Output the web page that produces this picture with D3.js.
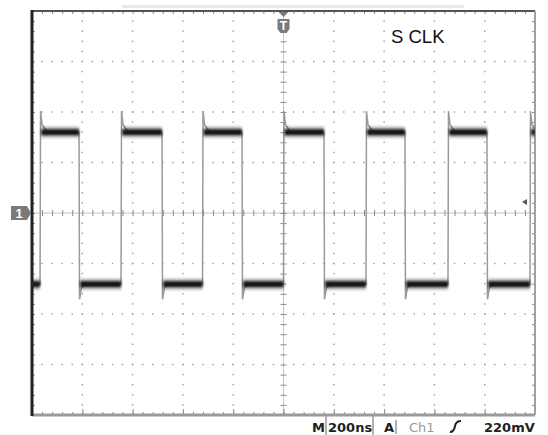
<!DOCTYPE html>
<html>
<head>
<meta charset="utf-8">
<script src="https://cdn.jsdelivr.net/npm/d3@7"></script>
<style>
  body { margin: 0; background: #fff; }
  svg { display: block; }
</style>
</head>
<body>
<script>
// Data: 200 ns/div, ~1 V/div, trigger at t = 0
let timeDomain = [-1000, 1000];
let voltDomain = [-4, 4];
let risingEdges = [-968, -646, -322, 0, 328, 654, 980];
let fallingEdges = [-813, -483, -165, 161, 483, 809];
let highLevel = 1.6;
let lowLevel = -1.41;
// ringing right after each edge: [ns after edge, volts from the settled level]
let riseRing = [[2, 0.42], [8, 0.15], [30, 0]];
let fallRing = [[2, -0.3], [10, -0.06], [30, 0]];
let triggerLevel = 0.22;
let label = "S CLK";
let footer = {timebase: "200ns", source: "Ch1", level: "220mV"};

let width = 548;
let height = 435;
let plot = {left: 32, right: 535, top: 11, bottom: 415};

let x = d3.scaleLinear().domain(timeDomain).range([plot.left, plot.right]);
let y = d3.scaleLinear().domain(voltDomain).range([plot.bottom, plot.top]);

let svg = d3.select("body").append("svg")
  .attr("width", width)
  .attr("height", height)
  .style("font-family", "'Liberation Sans', Arial, sans-serif");

let defs = svg.append("defs");
defs.append("clipPath").attr("id", "clip")
  .append("rect")
  .attr("x", plot.left).attr("y", plot.top)
  .attr("width", plot.right - plot.left).attr("height", plot.bottom - plot.top);
defs.append("filter").attr("id", "fuzz")
  .attr("filterUnits", "userSpaceOnUse")
  .attr("x", 0).attr("y", 0).attr("width", width).attr("height", height)
  .append("feGaussianBlur").attr("stdDeviation", 1.1);

// faint status bar at the very top
svg.append("rect")
  .attr("x", 122).attr("y", 5).attr("width", 342).attr("height", 3)
  .attr("fill", "#e8e8e8");

// grid: dotted major lines
let majorT = d3.range(timeDomain[0] + 200, timeDomain[1], 200);
let majorV = d3.range(voltDomain[0] + 1, voltDomain[1], 1);
let minorT = d3.range(timeDomain[0], timeDomain[1] + 1, 40);
let minorV = d3.range(voltDomain[0], voltDomain[1] + 0.01, 0.2);

let grid = svg.append("g").attr("fill", "#9a9a9a");
for (let t of majorT) {
  if (t == 0) continue;
  grid.selectAll(null).data(minorV).enter().append("rect")
    .attr("x", x(t) - 0.7).attr("y", d => y(d) - 0.7)
    .attr("width", 1.4).attr("height", 1.4);
}
for (let v of majorV) {
  if (v == 0) continue;
  grid.selectAll(null).data(minorT).enter().append("rect")
    .attr("x", d => x(d) - 0.7).attr("y", y(v) - 0.7)
    .attr("width", 1.4).attr("height", 1.4);
}

// center cross with minor ticks
svg.append("line")
  .attr("x1", plot.left).attr("x2", plot.right)
  .attr("y1", y(0)).attr("y2", y(0))
  .attr("stroke", "#c4c4c4").attr("stroke-width", 1);
svg.append("line")
  .attr("x1", x(0)).attr("x2", x(0))
  .attr("y1", plot.top).attr("y2", plot.bottom)
  .attr("stroke", "#c4c4c4").attr("stroke-width", 1);

function tickAxis(axis, tx, ty) {
  let g = svg.append("g")
    .attr("transform", `translate(${tx},${ty})`)
    .call(axis);
  g.select(".domain").remove();
  g.selectAll("text").remove();
  g.selectAll("line").attr("stroke", "#8a8a8a");
  return g;
}
tickAxis(d3.axisBottom(x).tickValues(minorT).tickSize(6), 0, y(0) - 3);
tickAxis(d3.axisRight(y).tickValues(minorV).tickSize(6), x(0) - 3, 0);
// border ticks
tickAxis(d3.axisBottom(x).tickValues(minorT).tickSize(3), 0, plot.top);
tickAxis(d3.axisTop(x).tickValues(minorT).tickSize(3), 0, plot.bottom);
tickAxis(d3.axisRight(y).tickValues(minorV).tickSize(3), plot.left, 0);
tickAxis(d3.axisLeft(y).tickValues(minorV).tickSize(3), plot.right, 0);
tickAxis(d3.axisTop(x).tickValues(majorT).tickSize(6), 0, plot.bottom);

// border
svg.append("line").attr("x1", plot.left).attr("x2", plot.right)
  .attr("y1", plot.top).attr("y2", plot.top)
  .attr("stroke", "#555").attr("stroke-width", 2);
svg.append("line").attr("x1", plot.left).attr("x2", plot.right)
  .attr("y1", plot.bottom).attr("y2", plot.bottom)
  .attr("stroke", "#9a9a9a").attr("stroke-width", 3);
svg.append("line").attr("x1", plot.right).attr("x2", plot.right)
  .attr("y1", plot.top).attr("y2", plot.bottom)
  .attr("stroke", "#a0a0a0").attr("stroke-width", 2);
svg.append("line").attr("x1", plot.left).attr("x2", plot.left)
  .attr("y1", plot.top - 1).attr("y2", plot.bottom + 1)
  .attr("stroke", "#222").attr("stroke-width", 3);

// build the trace from the edge lists
let edges = risingEdges.map(t => ({t, rise: true}))
  .concat(fallingEdges.map(t => ({t, rise: false})))
  .sort((a, b) => a.t - b.t);

let points = [];
let plateaus = [];
let level = edges[0].rise ? lowLevel : highLevel;
let start = timeDomain[0];
points.push([start, level]);
for (let e of edges) {
  plateaus.push({from: start, to: e.t, v: level});
  points.push([e.t, level]);
  level = e.rise ? highLevel : lowLevel;
  let ring = e.rise ? riseRing : fallRing;
  for (let [dt, dv] of ring) points.push([e.t + dt, level + dv]);
  start = e.t + 5;
}
plateaus.push({from: start, to: timeDomain[1], v: level});
points.push([timeDomain[1], level]);

let trace = svg.append("g").attr("clip-path", "url(#clip)");
let line = d3.line().x(d => x(d[0])).y(d => y(d[1]));

trace.append("path")
  .attr("d", line(points))
  .attr("fill", "none")
  .attr("stroke", "#9a9a9a")
  .attr("stroke-width", 1.5);

trace.selectAll(".halo").data(plateaus).enter().append("rect")
  .attr("class", "halo")
  .attr("x", d => x(d.from)).attr("width", d => x(d.to) - x(d.from))
  .attr("y", d => y(d.v) - 6).attr("height", 12)
  .attr("fill", "#000").attr("fill-opacity", 0.22)
  .attr("filter", "url(#fuzz)");
trace.selectAll(".band").data(plateaus).enter().append("rect")
  .attr("class", "band")
  .attr("x", d => x(d.from)).attr("width", d => x(d.to) - x(d.from))
  .attr("y", d => y(d.v) - 3).attr("height", 6)
  .attr("fill", "#151515")
  .attr("filter", "url(#fuzz)");

// channel 1 ground marker
let gy = y(0);
svg.append("path")
  .attr("d", `M11,${gy - 7} H27 L31,${gy} L27,${gy + 7} H11 Z`)
  .attr("fill", "#7a7a7a");
svg.append("text")
  .attr("x", 19).attr("y", gy + 5)
  .attr("text-anchor", "middle")
  .attr("fill", "#fff").attr("font-size", 13).attr("font-weight", "bold")
  .text("1");

// trigger position marker
let tx = x(0);
svg.append("path")
  .attr("d", `M${tx - 5},${plot.top + 1} H${tx + 5} L${tx},${plot.top + 6} Z`)
  .attr("fill", "#7a7a7a");
svg.append("path")
  .attr("d", `M${tx - 6},19 H${tx + 6} V29 L${tx + 3},33 H${tx - 3} L${tx - 6},29 Z`)
  .attr("fill", "#7a7a7a");
svg.append("text")
  .attr("x", tx).attr("y", 30)
  .attr("text-anchor", "middle")
  .attr("fill", "#fff").attr("font-size", 12).attr("font-weight", "bold")
  .text("T");

// trigger level arrow
let ly = y(triggerLevel);
svg.append("path")
  .attr("d", `M${plot.right - 13},${ly} L${plot.right - 8},${ly - 3} L${plot.right - 8},${ly + 3} Z`)
  .attr("fill", "#555");

// signal label
svg.append("text")
  .attr("x", 391).attr("y", 43)
  .attr("font-size", 18.5)
  .attr("fill", "#111")
  .text(label);

// footer readout
let fy = 432;
let foot = svg.append("g")
  .attr("font-family", "'DejaVu Sans', sans-serif")
  .attr("font-size", 13).attr("font-weight", "bold").attr("fill", "#222");
foot.append("text").attr("x", 312).attr("y", fy).text("M");
foot.append("path")
  .attr("d", `M326,${plot.bottom} V${height} M373,${plot.bottom} V${height}`)
  .attr("stroke", "#999").attr("stroke-width", 1.5);
foot.append("text").attr("x", 328).attr("y", fy).text(footer.timebase);
foot.append("text").attr("x", 384).attr("y", fy).text("A");
foot.append("line")
  .attr("x1", 396).attr("x2", 396).attr("y1", 420).attr("y2", 434)
  .attr("stroke", "#999").attr("stroke-width", 1.5);
foot.append("text").attr("x", 409).attr("y", fy)
  .attr("fill", "#9a9a9a").attr("font-weight", "normal").text(footer.source);
foot.append("path")
  .attr("d", `M450,${fy} Q454,${fy} 455,${fy - 6} Q456,${fy - 11} 461,${fy - 11}`)
  .attr("fill", "none").attr("stroke", "#222").attr("stroke-width", 2);
foot.append("text").attr("x", 484).attr("y", fy).text(footer.level);
</script>
</body>
</html>
